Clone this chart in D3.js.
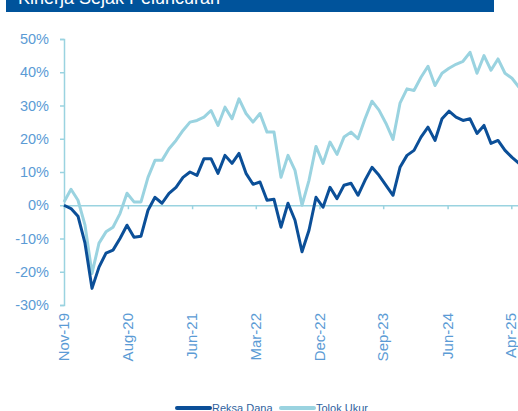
<!DOCTYPE html>
<html>
<head>
<meta charset="utf-8">
<script src="https://cdn.jsdelivr.net/npm/d3@7.9.0/dist/d3.min.js"></script>
<style>
  html, body { margin: 0; padding: 0; background: #fff; }
  svg { display: block; font-family: "Liberation Sans", Arial, sans-serif; }
</style>
</head>
<body>
<div id="chart"></div>
<script>
// Monthly performance since launch, Nov-19 .. Apr-25 (%)
const reksaDana = [
  0, -1, -3.3, -11.4, -25, -18.6, -14.4, -13.5, -10, -6,
  -9.6, -9.3, -1.5, 2.4, 0.6, 3.6, 5.4, 8.4, 10, 9,
  14, 14, 9.6, 15, 12.6, 15.6, 9.6, 6.3, 7, 1.5,
  1.8, -6.6, 0.6, -4.5, -14, -7.5, 2.4, -0.6, 5.4, 2,
  6, 6.6, 3, 7.5, 11.4, 9, 6, 3, 11.4, 15,
  16.5, 20.5, 23.5, 19.5, 26, 28.3, 26.5, 25.5, 26, 21.6,
  24, 18.6, 19.5, 16.5, 14.4, 12.6
];
const tolokUkur = [
  1, 4.8, 1.5, -6, -20.5, -11.4, -8, -6.6, -2.5, 3.6,
  1, 1, 8.4, 13.5, 13.5, 17, 19.5, 22.5, 25, 25.5,
  26.5, 28.5, 24, 29.5, 26, 32, 27.6, 25, 27.6, 22,
  22, 8.4, 15, 10.5, 0, 7.5, 17.7, 12.6, 19, 15.3,
  20.5, 22, 20, 26, 31.3, 28.6, 24.6, 19.8, 30.7, 35,
  34.5, 38.5, 41.8, 36, 39.7, 41.2, 42.4, 43.3, 46, 39.7,
  45, 40.6, 44, 39.7, 38.2, 35.5
];
const tickLabels = ["Nov-19", "Aug-20", "Jun-21", "Mar-22", "Dec-22", "Sep-23", "Jun-24", "Apr-25"];
const tickIndex = [0, 9.13, 18.3, 27.4, 36.5, 45.6, 54.8, 63.9];
const yTicks = [-30, -20, -10, 0, 10, 20, 30, 40, 50];
const seriesNames = ["Reksa Dana", "Tolok Ukur"];

const W = 518, H = 411;
const darkBlue = "#0B4F98";
const lightBlue = "#9AD3E0";
const labelBlue = "#5B9BD5";

const svg = d3.select("#chart")
  .append("svg")
  .attr("width", W)
  .attr("height", H);

// Title bar (cut off at the top)
svg.append("rect")
  .attr("x", 6).attr("y", 0)
  .attr("width", 488).attr("height", 12)
  .attr("fill", "#00539B");
svg.append("text")
  .attr("x", 18).attr("y", 4)
  .attr("fill", "#fff")
  .attr("font-size", 18)
  .text("Kinerja Sejak Peluncuran");

// Scales
const x = d3.scaleLinear()
  .domain([0, reksaDana.length - 1])
  .range([64, 519]);

const y = d3.scaleLinear()
  .domain([-30, 50])
  .range([305, 39]);

// Y axis
const yAxis = svg.append("g")
  .attr("transform", `translate(${x(0)},0)`)
  .call(d3.axisLeft(y).tickValues(yTicks).tickFormat(d => d + "%").tickSize(4).tickPadding(11));
yAxis.select(".domain").attr("stroke", lightBlue).attr("stroke-width", 1.5);
yAxis.selectAll(".tick line").attr("stroke", lightBlue).attr("stroke-width", 1.5);
yAxis.selectAll(".tick text")
  .attr("fill", labelBlue)
  .attr("font-size", 14.5);

// Zero line with ticks pointing down
const xAxis = svg.append("g")
  .attr("transform", `translate(0,${y(0)})`)
  .call(d3.axisBottom(x).tickValues(tickIndex).tickFormat("").tickSize(4).tickSizeOuter(0));
xAxis.select(".domain").attr("stroke", lightBlue).attr("stroke-width", 1.5);
xAxis.selectAll(".tick line").attr("stroke", lightBlue).attr("stroke-width", 1.5);

// X labels, rotated, under the plot
svg.append("g")
  .selectAll("text")
  .data(tickLabels)
  .join("text")
  .attr("transform", (d, i) => `translate(${x(tickIndex[i]) + 5},313) rotate(-90)`)
  .attr("text-anchor", "end")
  .attr("fill", labelBlue)
  .attr("font-size", 15)
  .text(d => d);

// Lines
const line = d3.line()
  .x((d, i) => x(i))
  .y(d => y(d));

svg.append("path")
  .datum(tolokUkur)
  .attr("fill", "none")
  .attr("stroke", lightBlue)
  .attr("stroke-width", 3)
  .attr("stroke-linejoin", "round")
  .attr("d", line);

svg.append("path")
  .datum(reksaDana)
  .attr("fill", "none")
  .attr("stroke", darkBlue)
  .attr("stroke-width", 3)
  .attr("stroke-linejoin", "round")
  .attr("d", line);

// Legend
const legend = svg.append("g");
const legendX = [177, 281];
[darkBlue, lightBlue].forEach((c, i) => {
  legend.append("line")
    .attr("x1", legendX[i]).attr("x2", legendX[i] + 33)
    .attr("y1", 408).attr("y2", 408)
    .attr("stroke", c)
    .attr("stroke-width", 4)
    .attr("stroke-linecap", "round");
  legend.append("text")
    .attr("x", legendX[i] + 35)
    .attr("y", 412)
    .attr("fill", "#2F5F9E")
    .attr("font-size", 11)
    .text(seriesNames[i]);
});
</script>
</body>
</html>
